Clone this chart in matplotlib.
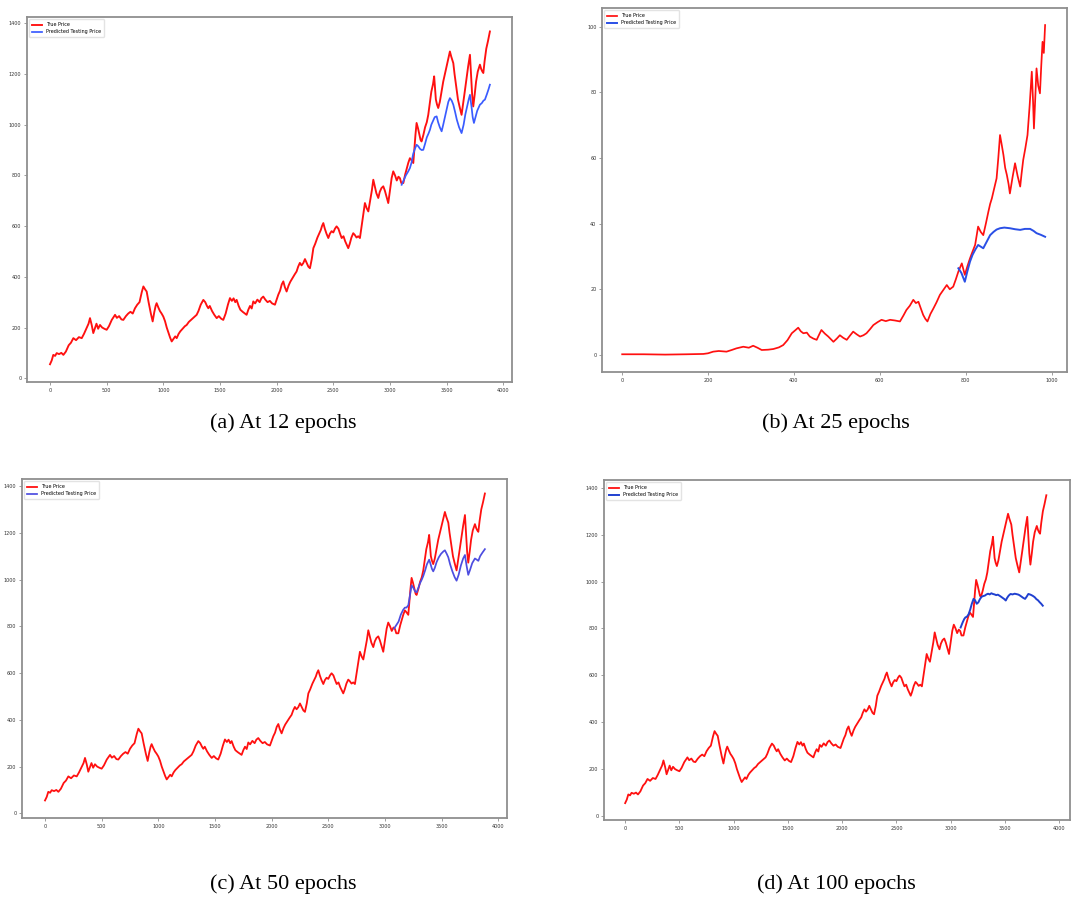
import matplotlib
matplotlib.use("Agg")
import matplotlib.pyplot as plt

# true closing price, shared by panels (a), (c), (d)
true_day = [0, 15, 29, 45, 59, 80, 100, 118, 140, 165, 185, 206, 230, 255, 280, 300, 320, 340, 353, 368,
            382, 395, 410, 425, 441, 460, 480, 500, 520, 545, 560, 574, 590, 610, 630, 647, 670, 690, 710, 730,
            750, 770, 790, 810, 824, 840, 853, 870, 890, 906, 920, 932, 941, 955, 970, 985, 1000, 1015, 1030, 1045,
            1060, 1074, 1090, 1105, 1118, 1135, 1150, 1170, 1190, 1206, 1225, 1245, 1270, 1294, 1310, 1330, 1353, 1370, 1385, 1397,
            1410, 1430, 1450, 1471, 1490, 1510, 1529, 1550, 1570, 1588, 1605, 1620, 1635, 1647, 1665, 1680, 1700, 1720, 1735, 1750,
            1765, 1780, 1794, 1810, 1830, 1850, 1865, 1882, 1900, 1920, 1940, 1960, 1985, 2000, 2015, 2030, 2045, 2059, 2072, 2088,
            2105, 2120, 2140, 2160, 2176, 2190, 2205, 2220, 2235, 2250, 2265, 2280, 2294, 2310, 2324, 2340, 2360, 2375, 2390, 2400,
            2412, 2425, 2440, 2456, 2470, 2485, 2500, 2515, 2529, 2545, 2560, 2574, 2590, 2605, 2620, 2632, 2645, 2660, 2676, 2690,
            2705, 2720, 2735, 2750, 2765, 2779, 2795, 2809, 2825, 2840, 2853, 2865, 2880, 2897, 2910, 2925, 2941, 2955, 2970, 2985,
            3000, 3015, 3029, 3045, 3060, 3075, 3088, 3100, 3118, 3135, 3150, 3162, 3176, 3190, 3206, 3215, 3225, 3235, 3248, 3260,
            3270, 3279, 3295, 3310, 3325, 3338, 3350, 3365, 3380, 3390, 3397, 3405, 3415, 3426, 3440, 3456, 3470, 3485, 3500, 3515,
            3529, 3540, 3559, 3570, 3585, 3600, 3615, 3632, 3645, 3660, 3675, 3690, 3706, 3715, 3725, 3735, 3748, 3760, 3775, 3794,
            3805, 3815, 3824, 3835, 3850, 3865, 3882]
true_price = [55, 70, 92, 88, 99, 95, 100, 92, 105, 130, 140, 158, 150, 162, 158, 175, 195, 215, 237, 210,
              178, 195, 215, 195, 210, 200, 195, 191, 205, 230, 240, 250, 238, 245, 232, 230, 245, 255, 262, 255,
              276, 290, 300, 340, 362, 350, 342, 300, 255, 224, 260, 285, 296, 280, 265, 255, 243, 225, 200, 180,
              160, 145, 155, 165, 158, 175, 185, 195, 205, 210, 222, 230, 240, 250, 265, 290, 309, 300, 285, 276,
              285, 265, 250, 237, 245, 235, 230, 255, 290, 316, 305, 315, 300, 309, 285, 270, 262, 255, 250, 270,
              285, 275, 303, 295, 310, 300, 315, 322, 310, 300, 305, 295, 290, 310, 330, 345, 370, 382, 360, 342,
              365, 380, 395, 410, 421, 440, 455, 445, 454, 470, 455, 440, 434, 470, 513, 530, 555, 570, 585, 600,
              612, 590, 570, 553, 570, 580, 575, 590, 599, 590, 570, 553, 560, 540, 525, 513, 530, 555, 572, 565,
              555, 560, 553, 600, 650, 691, 670, 658, 700, 740, 783, 760, 730, 711, 735, 750, 757, 740, 715, 691,
              740, 790, 816, 800, 780, 795, 789, 770, 770, 805, 830, 850, 868, 860, 849, 900, 960, 1007, 985, 960,
              940, 934, 960, 990, 1010, 1039, 1080, 1130, 1160, 1191, 1150, 1100, 1080, 1066, 1090, 1132, 1170, 1200, 1230, 1260,
              1289, 1270, 1243, 1200, 1150, 1100, 1070, 1039, 1080, 1130, 1180, 1230, 1276, 1200, 1120, 1072, 1120, 1170, 1210, 1237,
              1220, 1210, 1204, 1250, 1300, 1330, 1368]

# predicted testing price, panel (a) 12 epochs
pred12_day = [3103, 3120, 3140, 3160, 3176, 3190, 3205, 3220, 3235, 3250, 3265, 3280, 3294, 3310, 3325, 3340, 3353, 3365,
              3380, 3395, 3412, 3425, 3440, 3456, 3470, 3485, 3500, 3515, 3529, 3545, 3559, 3575, 3590, 3610, 3632, 3650,
              3665, 3680, 3695, 3706, 3720, 3730, 3741, 3755, 3770, 3794, 3810, 3825, 3838, 3855, 3870, 3882]
pred12 = [763, 780, 800, 815, 829, 850, 885, 905, 921, 915, 905, 900, 901, 925, 950, 965, 980, 1000,
          1015, 1030, 1033, 1010, 990, 974, 1000, 1030, 1060, 1090, 1105, 1095, 1079, 1050, 1020, 990, 967, 1000,
          1040, 1070, 1100, 1118, 1070, 1030, 1007, 1030, 1055, 1079, 1085, 1095, 1099, 1120, 1140, 1158]

# panel (b) 25 epochs: different series, shorter
b_day = [0, 50, 100, 150, 189, 200, 212, 225, 243, 255, 266, 282, 295, 305, 315, 325, 340, 352, 365, 375,
         385, 395, 403, 410, 416, 422, 430, 437, 445, 453, 458, 464, 472, 480, 486, 492, 500, 507, 515, 523,
         530, 538, 546, 554, 562, 569, 577, 585, 595, 604, 614, 624, 635, 647, 655, 662, 670, 678, 684, 690,
         696, 701, 706, 711, 718, 725, 732, 740, 748, 756, 763, 771, 777, 783, 791, 798, 804, 810, 816, 822,
         829, 835, 841, 847, 853, 857, 861, 866, 872, 876, 880, 884, 888, 892, 896, 900, 903, 909, 915, 921,
         927, 930, 934, 939, 944, 949, 954, 957, 959, 962, 965, 969, 973, 976, 979, 982, 985]
b_true = [0.2, 0.2, 0.1, 0.2, 0.3, 0.5, 1.0, 1.2, 1.0, 1.5, 2.0, 2.5, 2.2, 2.8, 2.2, 1.5, 1.6, 1.8, 2.3, 3.0,
          4.5, 6.6, 7.5, 8.3, 7.2, 6.6, 6.8, 5.6, 5.0, 4.6, 6.0, 7.6, 6.5, 5.6, 4.8, 4.0, 5.0, 6.0, 5.2, 4.6,
          5.8, 7.1, 6.3, 5.6, 6.0, 6.6, 7.8, 9.1, 10.0, 10.7, 10.3, 10.7, 10.5, 10.2, 12.0, 13.7, 15.0, 16.8, 15.8, 16.2,
          14.0, 12.2, 11.0, 10.2, 12.5, 14.2, 16.0, 18.3, 19.8, 21.3, 20.0, 20.8, 23.0, 25.4, 27.9, 24.4, 27.0, 29.4, 31.5, 33.5,
          39.1, 37.5, 36.5, 40.0, 43.7, 46.0, 47.7, 50.5, 53.8, 60.0, 67.0, 64.0, 60.9, 57.0, 54.8, 52.0, 49.2, 54.0, 58.4, 54.5,
          51.3, 55.0, 59.4, 63.0, 67.0, 76.0, 86.3, 77.0, 69.0, 78.0, 87.3, 82.0, 79.7, 88.0, 95.4, 92.0, 100.5]
b_pred_day = [783, 790, 798, 804, 810, 816, 822, 829, 835, 841, 849, 857, 865, 872, 880, 890, 903, 915, 927, 938,
              950, 958, 965, 975, 985]
b_pred = [26.4, 25.0, 22.3, 25.5, 28.4, 30.5, 32.0, 33.5, 33.0, 32.5, 34.5, 36.5, 37.5, 38.2, 38.6, 38.8, 38.6, 38.3, 38.1, 38.4,
          38.4, 37.8, 37.1, 36.6, 36.0]

# panel (c) 50 epochs
pred50_day = [3080, 3100, 3120, 3140, 3160, 3176, 3190, 3206, 3220, 3235, 3250, 3265, 3279, 3295, 3310, 3325, 3338, 3355,
              3370, 3390, 3400, 3415, 3426, 3440, 3456, 3475, 3495, 3515, 3529, 3545, 3559, 3575, 3595, 3615, 3632, 3650,
              3670, 3690, 3706, 3720, 3735, 3750, 3770, 3794, 3810, 3824, 3840, 3860, 3882]
pred50 = [790, 805, 820, 850, 870, 880, 880, 890, 930, 975, 965, 950, 945, 965, 985, 1000, 1015, 1040,
          1065, 1085, 1070, 1045, 1035, 1050, 1075, 1095, 1110, 1120, 1125, 1110, 1095, 1065, 1035, 1010, 995, 1020,
          1060, 1090, 1105, 1060, 1020, 1040, 1070, 1090, 1085, 1080, 1100, 1115, 1130]

# panel (d) 100 epochs
pred100_day = [3092, 3110, 3125, 3136, 3150, 3166, 3180, 3195, 3211, 3225, 3240, 3255, 3270, 3285, 3300, 3315, 3330, 3345,
               3360, 3375, 3389, 3405, 3420, 3435, 3449, 3465, 3480, 3495, 3508, 3520, 3535, 3552, 3570, 3590, 3610, 3626,
               3640, 3655, 3670, 3686, 3700, 3716, 3730, 3745, 3760, 3775, 3790, 3805, 3820, 3835, 3849]
pred100 = [804, 825, 840, 847, 850, 861, 880, 905, 926, 920, 905, 911, 925, 935, 938, 940, 945, 948,
           945, 950, 947, 945, 942, 944, 940, 935, 930, 925, 919, 930, 940, 947, 945, 948, 946, 944,
           940, 935, 930, 926, 935, 947, 945, 942, 938, 933, 925, 920, 912, 905, 897]

captions = ["(a) At 12 epochs", "(b) At 25 epochs", "(c) At 50 epochs", "(d) At 100 epochs"]

fig = plt.figure(figsize=(10.73, 9.0), dpi=100)

W, H = 1073.0, 900.0


def make_axes(left, top, right, bottom):
    return fig.add_axes([left / W, 1 - bottom / H, (right - left) / W, (bottom - top) / H])


def style(ax):
    for s in ax.spines.values():
        s.set_color("#8f8f8f")
        s.set_linewidth(1.3)
    ax.tick_params(labelsize=3.5, length=2, width=0.5, color="#777777", labelcolor="#333333", pad=2)
    ax.legend(loc="upper left", fontsize=3.5, handlelength=2.0, borderpad=0.6, labelspacing=0.4,
              framealpha=0.8, edgecolor="#dddddd")


ax_a = make_axes(27, 17, 512, 382)
ax_a.plot(true_day, true_price, color="#ff1010", lw=1.35, label="True Price")
ax_a.plot(pred12_day, pred12, color="#3a5cff", lw=1.25, label="Predicted Testing Price")
ax_a.set_xlim(-203, 4077)
ax_a.set_ylim(-15, 1425)
ax_a.set_xticks(range(0, 4001, 500))
ax_a.set_yticks(range(0, 1401, 200))
style(ax_a)

ax_b = make_axes(602, 8, 1067, 372)
ax_b.plot(b_day, b_true, color="#ff1010", lw=1.25, label="True Price")
ax_b.plot(b_pred_day, b_pred, color="#2a4fe6", lw=1.4, label="Predicted Testing Price")
ax_b.set_xlim(-47, 1036)
ax_b.set_ylim(-5.2, 105.7)
ax_b.set_xticks(range(0, 1001, 200))
ax_b.set_yticks(range(0, 101, 20))
style(ax_b)

ax_c = make_axes(22, 479, 507, 818)
ax_c.plot(true_day, true_price, color="#ff1010", lw=1.3, label="True Price")
ax_c.plot(pred50_day, pred50, color="#4d4de0", lw=1.25, label="Predicted Testing Price")
ax_c.set_xlim(-203, 4077)
ax_c.set_ylim(-20, 1430)
ax_c.set_xticks(range(0, 4001, 500))
ax_c.set_yticks(range(0, 1401, 200))
style(ax_c)

ax_d = make_axes(604, 480, 1070, 820)
ax_d.plot(true_day, true_price, color="#ff1010", lw=1.3, label="True Price")
ax_d.plot(pred100_day, pred100, color="#2040d0", lw=1.4, label="Predicted Testing Price")
ax_d.set_xlim(-195, 4100)
ax_d.set_ylim(-17, 1433)
ax_d.set_xticks(range(0, 4001, 500))
ax_d.set_yticks(range(0, 1401, 200))
style(ax_d)

caption_pos = [(283, 423), (836, 423), (283, 884), (836, 884)]
for (cx, cy), text in zip(caption_pos, captions):
    fig.text(cx / W, 1 - cy / H, text, ha="center", va="center", fontsize=16,
             family="Liberation Serif")

fig.savefig("out.png", dpi=100)
